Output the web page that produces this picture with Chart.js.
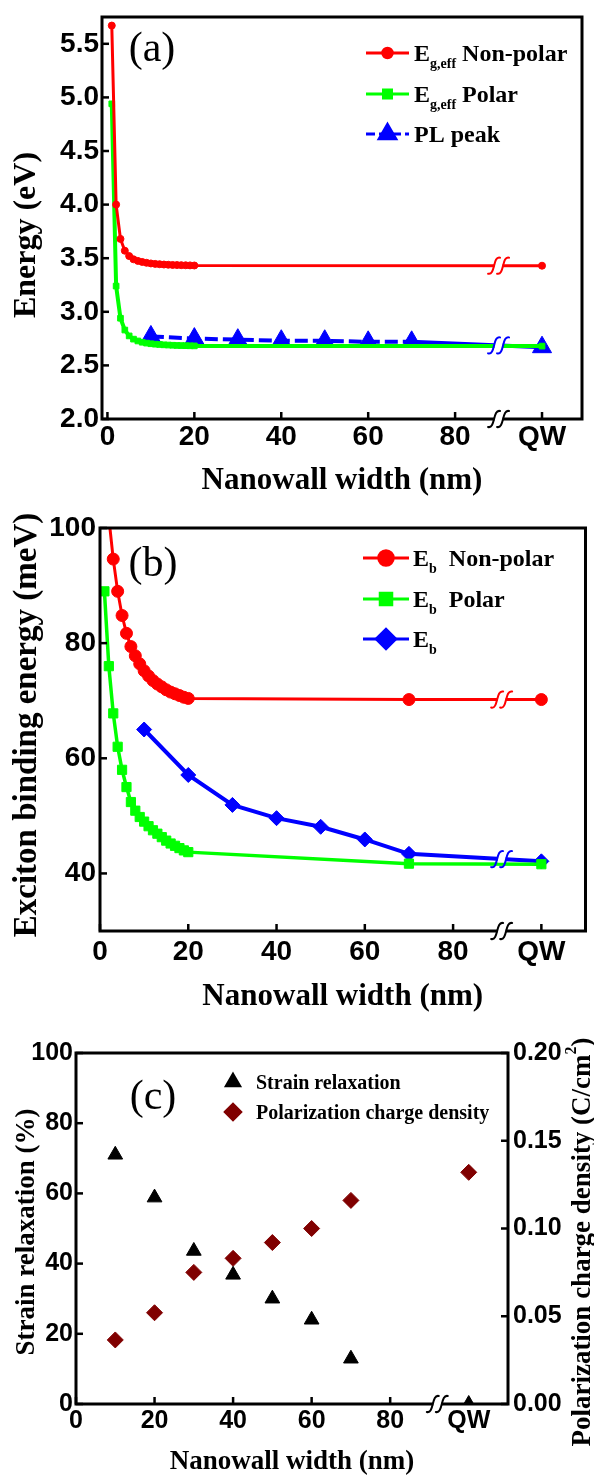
<!DOCTYPE html>
<html><head><meta charset="utf-8">
<script src="https://cdn.jsdelivr.net/npm/chart.js@4/dist/chart.umd.min.js"></script>
<style>
html,body{margin:0;padding:0;background:#fff;}
body{width:594px;height:1477px;position:relative;overflow:hidden;}
canvas{position:absolute;left:0;}
#ca{top:0}
#cb{top:500px}
#cc{top:1020px}
</style></head><body>
<canvas id="ca" width="594" height="500"></canvas>
<canvas id="cb" width="594" height="520"></canvas>
<canvas id="cc" width="594" height="457"></canvas>
<script>
// ---------------- DATA ----------------
// shared x axis (nanowall width, nm); 100 is drawn as "QW"
const widthTicks = [0, 20, 40, 60, 80, 100];
const qwPosition = 100;

// (a) effective band gap / PL peak (eV)
const aWidths   = [1,2,3,4,5,6,7,8,9,10,11,12,13,14,15,16,17,18,19,20,100];
const aNonPolar = [5.67,4.00,3.68,3.57,3.52,3.49,3.475,3.465,3.457,3.451,3.447,3.444,3.441,3.439,3.437,3.436,3.435,3.434,3.433,3.432,3.43];
const aPolar    = [4.94,3.24,2.94,2.83,2.775,2.745,2.728,2.716,2.708,2.702,2.698,2.695,2.692,2.690,2.688,2.686,2.685,2.684,2.683,2.682,2.68];
const aPLWidths = [10,20,30,40,50,60,70,100];
const aPLPeak   = [2.77,2.75,2.74,2.73,2.73,2.72,2.72,2.67];
const aYTicks   = [2.0,2.5,3.0,3.5,4.0,4.5,5.0,5.5];

// (b) exciton binding energy (meV)
const bNonPolarWidths = [2,3,4,5,6,7,8,9,10,11,12,13,14,15,16,17,18,19,20,70,100];
const bNonPolar       = [101.8,94.6,89.0,84.8,81.7,79.4,77.8,76.4,75.2,74.3,73.5,72.9,72.4,71.9,71.5,71.2,70.9,70.6,70.4,70.2,70.2];
const bPolarWidths    = [1,2,3,4,5,6,7,8,9,10,11,12,13,14,15,16,17,18,19,20,70,100];
const bPolar          = [89.0,76.0,67.8,62.0,58.0,55.0,52.4,50.9,49.8,49.0,48.2,47.5,46.9,46.3,45.7,45.2,44.8,44.4,44.0,43.7,41.7,41.6];
const bEbWidths       = [10,20,30,40,50,60,70,100];
const bEb             = [65.0,57.1,51.9,49.6,48.1,45.9,43.4,42.1];
const bYTicks         = [40,60,80,100];

// (c) strain relaxation (%) and polarization charge density (C/cm2)
const cWidths  = [10,20,30,40,50,60,70,100];
const cStrain  = [71.0,58.8,43.6,36.8,30.0,24.0,12.9,0];
const cPolCharge = [0.0365,0.052,0.075,0.083,0.092,0.100,0.116,0.132];
const cYTicks  = [0,20,40,60,80,100];
const cY1Ticks = [0,0.05,0.10,0.15,0.20];

// ---------------- STYLE ----------------
const RED = '#ff0000', GREEN = '#00ff00', BLUE = '#0000ff', MAROON = '#800000', BLACK = '#000000';
const SANS = "'Liberation Sans', Arial, sans-serif";
const SERIF = "'Liberation Serif', 'Times New Roman', serif";

const zip = (xs, ys) => xs.map((x, i) => ({x: x, y: ys[i]}));
function interp(xs, ys, x) {
  for (let i = 0; i < xs.length - 1; i++) {
    if (x >= xs[i] && x <= xs[i + 1]) return ys[i] + (ys[i + 1] - ys[i]) * (x - xs[i]) / (xs[i + 1] - xs[i]);
  }
  return ys[ys.length - 1];
}
const qwLabel = v => (v === qwPosition ? 'QW' : String(v));

function drawBreakGlyph(ctx, x, y, color, lw, gapH) {
  ctx.save();
  ctx.fillStyle = '#fff';
  ctx.fillRect(x - 4, y - gapH, 8, gapH * 2);
  ctx.strokeStyle = color; ctx.lineWidth = lw; ctx.lineCap = 'round';
  [-4.5, 4.5].forEach(dx => {
    const cx = x + dx;
    ctx.beginPath();
    ctx.moveTo(cx - 6, y + 8);
    ctx.bezierCurveTo(cx + 1.5, y + 10, cx - 1.5, y - 10, cx + 6, y - 8);
    ctx.stroke();
  });
  ctx.restore();
}

function drawRich(ctx, x, y, parts, size, subSize, weight, align) {
  let w = 0;
  parts.forEach(p => {
    ctx.font = `${weight} ${p.sub || p.sup ? subSize : size}px ${SERIF}`;
    w += ctx.measureText(p.t).width;
  });
  let cx = align === 'center' ? x - w / 2 : x;
  parts.forEach(p => {
    ctx.font = `${weight} ${p.sub || p.sup ? subSize : size}px ${SERIF}`;
    const dy = p.sub ? size * 0.3 : (p.sup ? -size * 0.42 : 0);
    ctx.fillText(p.t, cx, y + dy);
    cx += ctx.measureText(p.t).width;
  });
}

const decor = {
  id: 'decor',
  afterDraw(chart, args, o) {
    const ctx = chart.ctx, ca = chart.chartArea;
    ctx.save();
    // frame
    ctx.strokeStyle = BLACK; ctx.lineWidth = 3;
    ctx.strokeRect(ca.left, ca.top, ca.right - ca.left, ca.bottom - ca.top);
    // inward ticks
    ctx.lineWidth = 2.5;
    (o.ticks || []).forEach(t => {
      const s = chart.scales[t.scale];
      t.values.forEach(v => {
        const p = s.getPixelForValue(v);
        ctx.beginPath();
        if (t.side === 'bottom') { ctx.moveTo(p, ca.bottom); ctx.lineTo(p, ca.bottom - 7); }
        else if (t.side === 'left') { ctx.moveTo(ca.left, p); ctx.lineTo(ca.left + 7, p); }
        else { ctx.moveTo(ca.right, p); ctx.lineTo(ca.right - 7, p); }
        ctx.stroke();
      });
    });
    // series breaks
    const xs = chart.scales.x;
    (o.breaks || []).forEach(b => {
      const px = xs.getPixelForValue(b.x);
      const py = chart.scales[b.yScale || 'y'].getPixelForValue(interp(b.xs, b.ys, b.x));
      drawBreakGlyph(ctx, px, py, b.color, 2, 3.5);
    });
    if (o.axisBreak !== undefined) {
      drawBreakGlyph(ctx, xs.getPixelForValue(o.axisBreak), ca.bottom, BLACK, 2, 3);
    }
    // panel label
    if (o.panel) {
      ctx.fillStyle = BLACK; ctx.textAlign = 'center'; ctx.textBaseline = 'middle';
      ctx.font = `normal ${o.panel.size}px ${SERIF}`;
      ctx.fillText(o.panel.text, o.panel.x, o.panel.y);
    }
    // rotated y titles
    (o.titles || []).forEach(t => {
      ctx.save();
      ctx.translate(t.x, t.y);
      ctx.rotate(-Math.PI / 2);
      ctx.fillStyle = BLACK; ctx.textAlign = 'left'; ctx.textBaseline = 'middle';
      drawRich(ctx, 0, 0, t.parts, t.size, t.subSize || t.size * 0.6, 'bold', 'center');
      ctx.restore();
    });
    // legend
    if (o.legend) {
      const L = o.legend;
      L.items.forEach(it => {
        if (it.lw) {
          ctx.save();
          ctx.strokeStyle = it.color; ctx.lineWidth = it.lw; ctx.setLineDash(it.dash || []);
          ctx.beginPath(); ctx.moveTo(L.x1, it.y); ctx.lineTo(L.x2, it.y); ctx.stroke();
          ctx.restore();
        }
        ctx.save();
        ctx.fillStyle = it.color; ctx.strokeStyle = it.color;
        Chart.helpers.drawPoint(ctx, {pointStyle: it.style, radius: it.r, rotation: 0, borderWidth: 1}, L.mx, it.y);
        ctx.restore();
        ctx.fillStyle = BLACK; ctx.textAlign = 'left'; ctx.textBaseline = 'alphabetic';
        drawRich(ctx, L.tx, it.y + L.size * 0.33, it.parts, L.size, L.subSize, 'bold', 'left');
      });
    }
    ctx.restore();
  }
};

Chart.defaults.color = BLACK;

function xScale(min, max, height, lblPad, titleSize, titlePadBottom, tickSize) {
  return {
    type: 'linear', min: min, max: max,
    grid: {display: false, drawTicks: false}, border: {display: false},
    afterBuildTicks: s => { s.ticks = widthTicks.map(v => ({value: v})); },
    afterFit: s => { s.height = height; },
    ticks: {autoSkip: false, maxRotation: 0, padding: lblPad, color: BLACK,
      font: {family: SANS, weight: 'bold', size: tickSize, lineHeight: 1}, callback: v => qwLabel(v)},
    title: {display: true, text: 'Nanowall width (nm)', color: BLACK,
      font: {family: SERIF, weight: 'bold', size: titleSize, lineHeight: 1}, padding: {top: 0, bottom: titlePadBottom}}
  };
}
function yScale(min, max, ticks, width, pad, fmt, tickSize, position) {
  return {
    type: 'linear', min: min, max: max, position: position || 'left',
    grid: {display: false, drawTicks: false}, border: {display: false},
    afterBuildTicks: s => { s.ticks = ticks.map(v => ({value: v})); },
    afterFit: s => { s.width = width; },
    ticks: {autoSkip: false, padding: pad, color: BLACK,
      font: {family: SANS, weight: 'bold', size: tickSize, lineHeight: 1}, callback: fmt}
  };
}

// ---------------- (a) ----------------
new Chart(document.getElementById('ca'), {
  type: 'line',
  data: {datasets: [
    {label: 'Eg,eff Non-polar', data: zip(aWidths, aNonPolar), borderColor: RED, backgroundColor: RED,
      borderWidth: 3, pointStyle: 'circle', pointRadius: 3.5, pointBorderWidth: 1, tension: 0, clip: 0},
    {label: 'Eg,eff Polar', data: zip(aWidths, aPolar), borderColor: GREEN, backgroundColor: GREEN,
      borderWidth: 4, pointStyle: 'rect', pointRadius: 4, pointBorderWidth: 1, tension: 0, clip: 0},
    {label: 'PL peak', data: zip(aPLWidths, aPLPeak), borderColor: BLUE, backgroundColor: BLUE,
      borderWidth: 4, borderDash: [13, 5], pointStyle: 'triangle', pointRadius: 11, pointBorderWidth: 1, tension: 0, clip: 0,
      segment: {borderDash: c => (c.p1DataIndex === aPLWidths.length - 1 ? [] : undefined)}}
  ]},
  options: {
    responsive: false, animation: false, devicePixelRatio: 1,
    layout: {padding: {top: 14, right: 5, left: 0, bottom: 0}},
    scales: {
      x: xScale(-1.25, 109.2, 81, 4, 31, 3.5, 28),
      y: yScale(2.0, 5.75, aYTicks, 102, 3, v => Number(v).toFixed(1), 28)
    },
    plugins: {
      legend: {display: false}, tooltip: {enabled: false},
      decor: {
        ticks: [{scale: 'x', side: 'bottom', values: widthTicks}, {scale: 'y', side: 'left', values: aYTicks}],
        breaks: [{x: 90, xs: aWidths, ys: aNonPolar, color: RED}, {x: 90, xs: aPLWidths, ys: aPLPeak, color: BLUE}],
        axisBreak: 90,
        panel: {text: '(a)', x: 152, y: 50, size: 42},
        titles: [{x: 27, y: 235, size: 32, parts: [{t: 'Energy (eV)'}]}],
        legend: {x1: 366, x2: 409, mx: 387.5, tx: 414, size: 24, subSize: 14, items: [
          {y: 53, color: RED, lw: 3, style: 'circle', r: 5, parts: [{t: 'E'}, {t: 'g,eff', sub: true}, {t: ' Non-polar'}]},
          {y: 94, color: GREEN, lw: 3, style: 'rect', r: 6, parts: [{t: 'E'}, {t: 'g,eff', sub: true}, {t: ' Polar'}]},
          {y: 134, color: BLUE, lw: 3, dash: [9, 4], style: 'triangle', r: 10, parts: [{t: 'PL peak'}]}
        ]}
      }
    }
  },
  plugins: [decor]
});

// ---------------- (b) ----------------
new Chart(document.getElementById('cb'), {
  type: 'line',
  data: {datasets: [
    {label: 'Eb Non-polar', data: zip(bNonPolarWidths, bNonPolar), borderColor: RED, backgroundColor: RED,
      borderWidth: 3, pointStyle: 'circle', pointRadius: 6, pointBorderWidth: 1, tension: 0, clip: 0},
    {label: 'Eb Polar', data: zip(bPolarWidths, bPolar), borderColor: GREEN, backgroundColor: GREEN,
      borderWidth: 3.5, pointStyle: 'rect', pointRadius: 6.5, pointBorderWidth: 1, tension: 0, clip: 0},
    {label: 'Eb', data: zip(bEbWidths, bEb), borderColor: BLUE, backgroundColor: BLUE,
      borderWidth: 4, pointStyle: 'rectRot', pointRadius: 7.5, pointBorderWidth: 1, tension: 0, clip: 0}
  ]},
  options: {
    responsive: false, animation: false, devicePixelRatio: 1,
    layout: {padding: {top: 28, right: 3, left: 0, bottom: 0}},
    scales: {
      x: xScale(0, 110, 89, 7, 31, 7.5, 28),
      y: yScale(30, 100, bYTicks, 100, 4, v => String(v), 28)
    },
    plugins: {
      legend: {display: false}, tooltip: {enabled: false},
      decor: {
        ticks: [{scale: 'x', side: 'bottom', values: widthTicks}, {scale: 'y', side: 'left', values: bYTicks}],
        breaks: [{x: 91, xs: bNonPolarWidths, ys: bNonPolar, color: RED}, {x: 91, xs: bEbWidths, ys: bEb, color: BLUE}],
        axisBreak: 91,
        panel: {text: '(b)', x: 153, y: 65, size: 42},
        titles: [{x: 27, y: 225, size: 33, parts: [{t: 'Exciton binding energy (meV)'}]}],
        legend: {x1: 363, x2: 409, mx: 386, tx: 413, size: 24, subSize: 14, items: [
          {y: 58, color: RED, lw: 3, style: 'circle', r: 7.5, parts: [{t: 'E'}, {t: 'b', sub: true}, {t: '  Non-polar'}]},
          {y: 99, color: GREEN, lw: 3, style: 'rect', r: 8.5, parts: [{t: 'E'}, {t: 'b', sub: true}, {t: '  Polar'}]},
          {y: 139, color: BLUE, lw: 3, style: 'rectRot', r: 10, parts: [{t: 'E'}, {t: 'b', sub: true}]}
        ]}
      }
    }
  },
  plugins: [decor]
});

// ---------------- (c) ----------------
new Chart(document.getElementById('cc'), {
  type: 'scatter',
  data: {datasets: [
    {label: 'Strain relaxation', data: zip(cWidths, cStrain), yAxisID: 'y', showLine: false,
      borderColor: BLACK, backgroundColor: BLACK, pointStyle: 'triangle', pointRadius: 8.5, pointBorderWidth: 1, clip: 0},
    {label: 'Polarization charge density', data: zip(cWidths, cPolCharge), yAxisID: 'y1', showLine: false,
      borderColor: MAROON, backgroundColor: MAROON, pointStyle: 'rectRot', pointRadius: 8, pointBorderWidth: 1, clip: 0}
  ]},
  options: {
    responsive: false, animation: false, devicePixelRatio: 1,
    layout: {padding: {top: 33, right: 0, left: 0, bottom: 0}},
    scales: {
      x: xScale(0, 110, 73, 5, 27, 1.5, 25),
      y: yScale(0, 100, cYTicks, 76, 3, v => String(v), 25, 'left'),
      y1: yScale(0, 0.20, cY1Ticks, 86, 5, v => Number(v).toFixed(2), 25, 'right')
    },
    plugins: {
      legend: {display: false}, tooltip: {enabled: false},
      decor: {
        ticks: [{scale: 'x', side: 'bottom', values: widthTicks}, {scale: 'y', side: 'left', values: cYTicks},
                {scale: 'y1', side: 'right', values: cY1Ticks}],
        axisBreak: 92,
        panel: {text: '(c)', x: 153, y: 78, size: 42},
        titles: [
          {x: 27, y: 212, size: 27, parts: [{t: 'Strain relaxation (%)'}]},
          {x: 583, y: 222, size: 27, subSize: 16, parts: [{t: 'Polarization charge density (C/cm'}, {t: '2', sup: true}, {t: ')'}]}
        ],
        legend: {x1: 0, x2: 0, mx: 233, tx: 256, size: 20, subSize: 12, items: [
          {y: 62, color: BLACK, style: 'triangle', r: 8, parts: [{t: 'Strain relaxation'}]},
          {y: 92, color: MAROON, style: 'rectRot', r: 8, parts: [{t: 'Polarization charge density'}]}
        ]}
      }
    }
  },
  plugins: [decor]
});
</script>
</body></html>
